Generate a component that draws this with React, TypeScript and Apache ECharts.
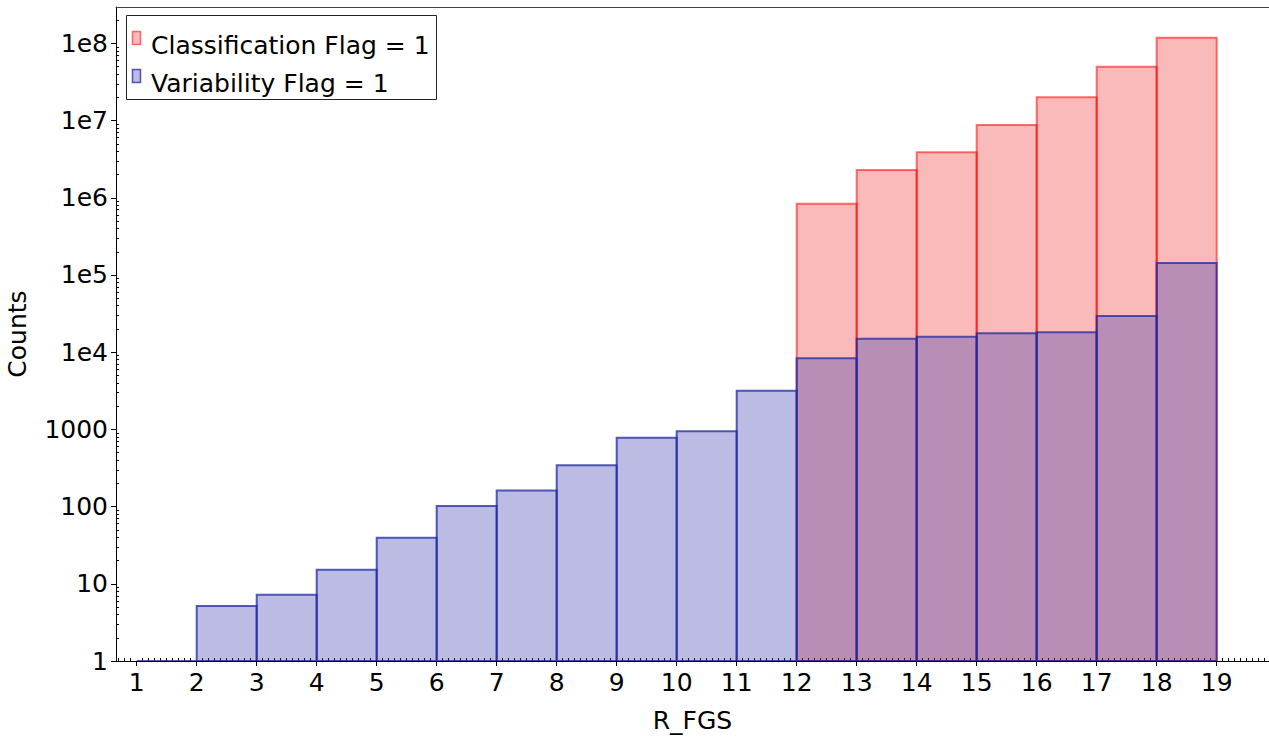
import React, { useEffect, useRef } from "react";
import * as echarts from "echarts";

// ---- data ----
const binStarts = [1, 2, 3, 4, 5, 6, 7, 8, 9, 10, 11, 12, 13, 14, 15, 16, 17, 18];
const binWidth = 1;
const seriesNames = ["Classification Flag = 1", "Variability Flag = 1"];
const classificationCounts: (number | null)[] = [
  null, null, null, null, null, null, null, null, null, null, null,
  839000, 2290000, 3880000, 8770000, 20000000, 49900000, 118000000,
];
const variabilityCounts: (number | null)[] = [
  1, 5.16, 7.2, 15.2, 39.6, 102, 162, 343, 781, 945, 3170,
  8340, 14960, 15880, 17580, 18110, 29440, 143000,
];
const xTickValues = [1, 2, 3, 4, 5, 6, 7, 8, 9, 10, 11, 12, 13, 14, 15, 16, 17, 18, 19];
const yTickValues = [1, 10, 100, 1000, 1e4, 1e5, 1e6, 1e7, 1e8];
const yTickLabels = ["1", "10", "100", "1000", "1e4", "1e5", "1e6", "1e7", "1e8"];
const xName = "R_FGS";
const yName = "Counts";

const X_MIN = 0.655;
const X_MAX = 19.872;
const Y_MIN = 1;
const Y_MAX = 2.96e8;

const FONT = '"DejaVu Sans", Verdana, sans-serif';

function makeData(vals: (number | null)[]) {
  const out: number[][] = [];
  binStarts.forEach((s, i) => {
    const v = vals[i];
    if (v != null) out.push([s, s + binWidth, v]);
  });
  return out;
}

function xMinorTicks() {
  const out: number[] = [];
  for (let i = Math.ceil(X_MIN * 10); i <= Math.floor(X_MAX * 10); i++) {
    if (i % 10 !== 0) out.push(i / 10);
  }
  return out;
}
function yMinorTicks() {
  const out: number[] = [];
  for (let e = 0; e <= 8; e++) {
    for (let m = 2; m <= 9; m++) {
      const v = m * Math.pow(10, e);
      if (v < Y_MAX) out.push(v);
    }
  }
  return out;
}

function histSeries(name: string, vals: (number | null)[], fill: string, stroke: string) {
  return {
    type: "custom",
    name,
    data: makeData(vals),
    encode: { x: [0, 1], y: 2 },
    clip: true,
    renderItem: (params: any, api: any) => {
      const x0 = api.value(0);
      const x1 = api.value(1);
      const v = api.value(2);
      const pTop = api.coord([x0, v]);
      const pBot = api.coord([x1, Y_MIN]);
      return {
        type: "rect",
        shape: {
          x: pTop[0],
          y: pTop[1],
          width: pBot[0] - pTop[0],
          height: pBot[1] - pTop[1],
        },
        style: { fill, stroke, lineWidth: 2 },
      };
    },
  };
}

export default function App() {
  const ref = useRef<HTMLDivElement>(null);
  useEffect(() => {
    if (!ref.current) return;
    const chart = echarts.init(ref.current, null, { renderer: "svg" });
    const redFill = "rgba(242,0,0,0.27)";
    const redStroke = "rgba(255,0,0,0.55)";
    const blueFill = "rgba(60,60,175,0.35)";
    const blueStroke = "rgba(30,40,160,0.75)";
    const labelStyle = { color: "#000", fontSize: 25, fontFamily: FONT };
    chart.setOption({
      animation: false,
      backgroundColor: "#fff",
      grid: {
        left: 116,
        top: 7,
        width: 1153,
        height: 654,
        containLabel: false,
        outerBoundsMode: "none",
      },
      xAxis: [
        {
          type: "value",
          min: X_MIN,
          max: X_MAX,
          position: "bottom",
          name: xName,
          nameLocation: "middle",
          nameGap: 47,
          nameTextStyle: labelStyle,
          axisLine: { show: true, onZero: false, lineStyle: { color: "#000", width: 1 } },
          axisTick: { show: true, customValues: xTickValues, length: 5, lineStyle: { color: "#000" } },
          axisLabel: { show: true, customValues: xTickValues, margin: 9, ...labelStyle },
          splitLine: { show: false },
        },
        {
          type: "value",
          min: X_MIN,
          max: X_MAX,
          position: "bottom",
          axisLine: { show: false, onZero: false },
          axisTick: { show: true, customValues: xMinorTicks(), inside: true, length: 3, lineStyle: { color: "#000" } },
          axisLabel: { show: false },
          splitLine: { show: false },
        },
        {
          type: "value",
          min: X_MIN,
          max: X_MAX,
          position: "top",
          axisLine: { show: true, onZero: false, lineStyle: { color: "#444", width: 1 } },
          axisTick: { show: false },
          axisLabel: { show: false },
          splitLine: { show: false },
        },
      ],
      yAxis: [
        {
          type: "log",
          logBase: 10,
          min: Y_MIN,
          max: Y_MAX,
          position: "left",
          name: yName,
          nameLocation: "middle",
          nameRotate: 90,
          nameGap: 86,
          nameTextStyle: labelStyle,
          axisLine: { show: true, onZero: false, lineStyle: { color: "#000", width: 1 } },
          axisTick: { show: true, customValues: yTickValues, length: 5, lineStyle: { color: "#000" } },
          axisLabel: {
            show: true,
            customValues: yTickValues,
            margin: 8,
            ...labelStyle,
            formatter: (v: number) => {
              const idx = yTickValues.findIndex((t) => Math.abs(t - v) / t < 1e-6);
              return idx >= 0 ? yTickLabels[idx] : "";
            },
          },
          splitLine: { show: false },
        },
        {
          type: "log",
          logBase: 10,
          min: Y_MIN,
          max: Y_MAX,
          position: "left",
          axisLine: { show: false, onZero: false },
          axisTick: { show: true, customValues: yMinorTicks(), inside: true, length: 3, lineStyle: { color: "#000" } },
          axisLabel: { show: false },
          splitLine: { show: false },
        },
      ],
      series: [
        histSeries(seriesNames[0], classificationCounts, redFill, redStroke),
        histSeries(seriesNames[1], variabilityCounts, blueFill, blueStroke),
      ],
      graphic: [
        {
          type: "group",
          z: 100,
          children: [
            {
              type: "rect",
              shape: { x: 126.5, y: 15.5, width: 310, height: 84 },
              style: { fill: "#fff", stroke: "#222", lineWidth: 1 },
            },
            {
              type: "rect",
              shape: { x: 132.5, y: 31.5, width: 8, height: 13 },
              style: { fill: redFill, stroke: redStroke, lineWidth: 1.5 },
            },
            {
              type: "rect",
              shape: { x: 132.5, y: 69.5, width: 8, height: 13 },
              style: { fill: blueFill, stroke: blueStroke, lineWidth: 1.5 },
            },
            {
              type: "text",
              style: {
                x: 151,
                y: 45,
                text: seriesNames[0],
                font: `25px ${FONT}`,
                fill: "#000",
                textVerticalAlign: "middle",
              },
            },
            {
              type: "text",
              style: {
                x: 151,
                y: 83,
                text: seriesNames[1],
                font: `25px ${FONT}`,
                fill: "#000",
                textVerticalAlign: "middle",
              },
            },
          ],
        },
      ],
    });
    return () => chart.dispose();
  }, []);
  return (
    <div
      ref={ref}
      style={{ position: "absolute", left: 0, top: 0, width: 1269, height: 738 }}
    />
  );
}
